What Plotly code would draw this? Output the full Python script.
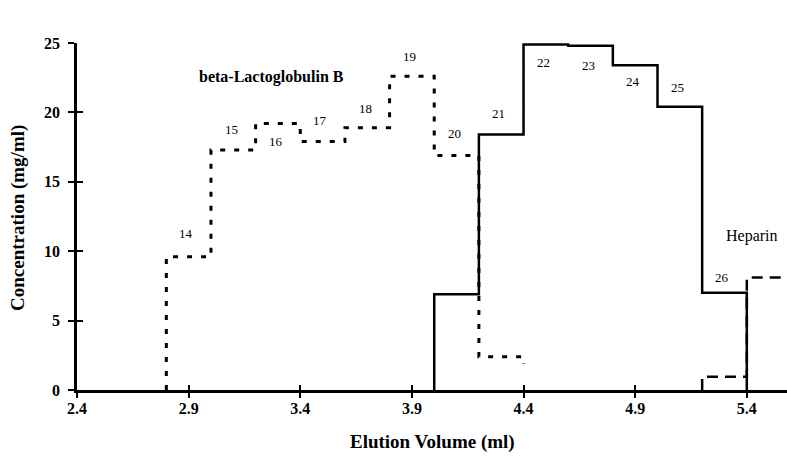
import plotly.graph_objects as go

# Fraction geometry: each fraction collects 0.2 ml of eluate
FRACTION_WIDTH = 0.2

# beta-Lactoglobulin B (fractions 14-21)
b_fractions = [14, 15, 16, 17, 18, 19, 20, 21]
b_starts = [2.8, 3.0, 3.2, 3.4, 3.6, 3.8, 4.0, 4.2]
b_conc = [9.6, 17.3, 19.2, 17.9, 18.9, 22.6, 16.9, 2.4]
b_tail = 1.9

# beta-Lactoglobulin A (fractions 20-26)
a_fractions = [20, 21, 22, 23, 24, 25, 26]
a_starts = [4.0, 4.2, 4.4, 4.6, 4.8, 5.0, 5.2]
a_conc = [6.9, 18.4, 24.9, 24.8, 23.4, 20.4, 7.0]

# Heparin (fractions 26-27)
h_starts = [5.2, 5.4]
h_conc = [0.95, 8.1]

# Fraction numbers printed over the steps, with vertical offset of each label
label_fractions = [14, 15, 16, 17, 18, 19, 20, 21, 22, 23, 24, 25, 26]
label_dy = [1.7, 1.5, -1.3, 1.55, 1.4, 1.4, 1.6, 1.55, -1.3, -1.4, -1.2, 1.4, 1.1]

x_ticks = [2.4, 2.9, 3.4, 3.9, 4.4, 4.9, 5.4]
y_ticks = [0, 5, 10, 15, 20, 25]

SERIF = "Liberation Serif, Times New Roman, serif"


def step_path(starts, values, end_level=0.0, start_level=0.0):
    xs, ys = [starts[0]], [start_level]
    for s, v in zip(starts, values):
        xs += [s, s + FRACTION_WIDTH]
        ys += [v, v]
    xs.append(starts[-1] + FRACTION_WIDTH)
    ys.append(end_level)
    return xs, ys


fig = go.Figure()

hx, hy = step_path(h_starts, h_conc, end_level=h_conc[-1])
fig.add_trace(go.Scatter(x=hx, y=hy, mode="lines",
                         line=dict(color="black", width=2.5, dash="11px,7px"),
                         hoverinfo="skip"))

bx, by = step_path(b_starts, b_conc, end_level=b_tail)
fig.add_trace(go.Scatter(x=bx, y=by, mode="lines",
                         line=dict(color="black", width=3, dash="5px,9px"),
                         hoverinfo="skip"))

# solid profile sits on the overlay axes (which carry the inner tick halves)
ax_, ay_ = step_path(a_starts, a_conc, end_level=0.0)
fig.add_trace(go.Scatter(x=ax_, y=ay_, mode="lines", xaxis="x2", yaxis="y2",
                         line=dict(color="black", width=2.5),
                         hoverinfo="skip"))

# fraction number labels
level = {}
start = {}
for f, s, v in zip(b_fractions, b_starts, b_conc):
    level[f], start[f] = v, s
for f, s, v in zip(a_fractions, a_starts, a_conc):
    if f not in level or f >= 21:
        level[f], start[f] = v, s

annotations = []
for f, dy in zip(label_fractions, label_dy):
    annotations.append(dict(x=start[f] + 0.09, y=level[f] + dy, xref="x", yref="y",
                            text=str(f), showarrow=False,
                            font=dict(family=SERIF, size=13, color="black")))

annotations += [
    dict(x=3.273, y=22.55, xref="x", yref="y", text="beta-Lactoglobulin B",
         showarrow=False, font=dict(family=SERIF, size=16, color="black", weight="bold")),
    dict(x=4.684, y=26.95, xref="x", yref="y", text="beta-Lactoglobulin A",
         showarrow=False, font=dict(family=SERIF, size=16, color="black", weight="bold")),
    dict(x=5.423, y=11.1, xref="x", yref="y", text="Heparin",
         showarrow=False, font=dict(family=SERIF, size=16, color="black")),
    dict(x=0.5, y=-0.15, xref="paper", yref="paper", xanchor="center", yanchor="middle",
         text="Elution Volume (ml)", showarrow=False,
         font=dict(family=SERIF, size=19, color="black", weight="bold")),
    dict(x=-0.083, y=0.496, xref="paper", yref="paper", xanchor="center", yanchor="middle",
         text="Concentration (mg/ml)", textangle=-90, showarrow=False,
         font=dict(family=SERIF, size=19, color="black", weight="bold")),
]

x_range = [2.4, 5.58]
y_range = [0, 25]
tickfont = dict(family=SERIF, size=16, color="black", weight="bold")

fig.update_layout(
    width=787, height=458,
    margin=dict(l=77, r=0, t=43, b=68),
    paper_bgcolor="white", plot_bgcolor="white",
    showlegend=False,
    annotations=annotations,
    xaxis=dict(range=x_range, tickvals=x_ticks, ticktext=[f"{v:.1f}" for v in x_ticks],
               showline=True, linecolor="black", linewidth=2.5,
               ticks="outside", ticklen=5, tickwidth=2, tickcolor="black",
               showgrid=False, zeroline=False, tickfont=tickfont,
               ticklabelstandoff=-3, fixedrange=True),
    yaxis=dict(range=y_range, tickvals=y_ticks, ticktext=[str(v) for v in y_ticks],
               showline=True, linecolor="black", linewidth=2.5,
               ticks="outside", ticklen=6, tickwidth=2, tickcolor="black",
               showgrid=False, zeroline=False, tickfont=tickfont,
               ticklabelstandoff=5, fixedrange=True),
    xaxis2=dict(range=x_range, overlaying="x", anchor="y2", side="bottom", tickvals=x_ticks,
                ticks="inside", ticklen=5, tickwidth=2, tickcolor="black",
                showticklabels=False, showline=False, showgrid=False, zeroline=False,
                fixedrange=True),
    yaxis2=dict(range=y_range, overlaying="y", anchor="x2", side="left", tickvals=y_ticks,
                ticks="inside", ticklen=6, tickwidth=2, tickcolor="black",
                showticklabels=False, showline=False, showgrid=False, zeroline=False,
                fixedrange=True),
)

fig.write_html("out.html")
